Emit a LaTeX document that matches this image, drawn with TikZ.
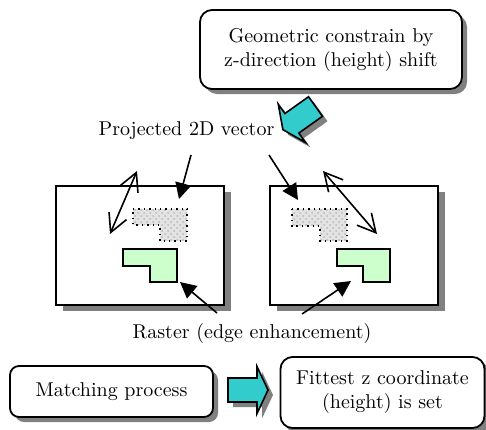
\documentclass[tikz,border=0pt]{standalone}
\usetikzlibrary{arrows.meta,patterns}
\definecolor{blockcyan}{RGB}{51,204,204}
\definecolor{shadowgray}{RGB}{128,128,128}
\newcommand{\blockpath}{(0,-12) -- (29,-12) -- (29,-23.5) -- (40,0) -- (29,23.5) -- (29,12) -- (0,12) -- cycle}
\tikzset{
  frame/.style={draw, line width=0.9pt, fill=white, minimum width=84pt, minimum height=59.5pt},
  textbox/.style={draw, line width=0.9pt, fill=white, rounded corners=6pt, align=center},
  pointer/.style={line width=0.8pt, -{Triangle[length=8pt,width=8pt]}},
  twoway/.style={line width=0.8pt, {Straight Barb[length=9pt,width=9.5pt]}-{Straight Barb[length=9pt,width=9.5pt]}},
  projarea/.style={draw, dotted, line width=0.7pt, preaction={fill=gray!22}, pattern=crosshatch dots, pattern color=gray!55},
  rasterarea/.style={draw, line width=0.8pt, fill=green!20},
  blockfill/.style={draw, line width=0.8pt, fill=blockcyan}
}
\begin{document}
\begin{tikzpicture}[x=0.5pt, y=-0.5pt]
    \useasboundingbox (0,0) rectangle (486,429);
    \fill[shadowgray, rounded corners=6pt] (205,15) rectangle (467,94);
    \fill[shadowgray] (63,192) rectangle (231,311);
    \fill[shadowgray] (277,192) rectangle (445,311);
    \fill[shadowgray, rounded corners=4.5pt] (15,371) rectangle (218,422);
    \fill[shadowgray, rounded corners=6pt] (285,362) rectangle (490,433);
    \node[textbox, minimum width=131pt, minimum height=39.5pt] (constrain) at (331,49.5)
      {Geometric constrain by\\z-direction (height) shift};
    \begin{scope}[shift={(320.5,111.5)}, rotate=215.4]
      \fill[shadowgray] \blockpath;
    \end{scope}
    \begin{scope}[shift={(315.5,106.5)}, rotate=215.4]
      \draw[blockfill] \blockpath;
    \end{scope}
    \node (proj) at (186.5,131) {Projected 2D vector};
    \node[frame] (frameL) at (140,245.5) {};
    \node[frame] (frameR) at (354,245.5) {};
    \draw[projarea] (133,209) -- (187,209) -- (187,241) -- (160,241) -- (160,225) -- (133,225) -- cycle;
    \draw[rasterarea] (123,249) -- (177,249) -- (177,282) -- (150,282) -- (150,266) -- (123,266) -- cycle;
    \draw[projarea] (292,209) -- (347,209) -- (347,241) -- (320,241) -- (320,226) -- (292,226) -- cycle;
    \draw[rasterarea] (337,249) -- (390,249) -- (390,282) -- (363,282) -- (363,266) -- (337,266) -- cycle;
    \coordinate (pjL) at (191,155);
    \coordinate (tgL) at (179,199);
    \coordinate (pjR) at (269,155);
    \coordinate (tgR) at (298,200);
    \draw[pointer] (pjL) -- (tgL);
    \draw[pointer] (pjR) -- (tgR);
    \coordinate (vL1) at (110,234);
    \coordinate (vL2) at (137,171);
    \coordinate (vR1) at (323,171);
    \coordinate (vR2) at (377,234);
    \draw[twoway] (vL1) -- (vL2);
    \draw[twoway] (vR1) -- (vR2);
    \node (raster) at (252,333) {Raster (edge enhancement)};
    \coordinate (rsL) at (217,313);
    \coordinate (grL) at (180,282);
    \coordinate (rsR) at (302,314);
    \coordinate (grR) at (351,281);
    \draw[pointer] (rsL) -- (grL);
    \draw[pointer] (rsR) -- (grR);
    \node[textbox, rounded corners=4.5pt, minimum width=101.5pt, minimum height=25.5pt] (matching) at (111.5,391.5)
      {Matching process};
    \begin{scope}[shift={(233,395)}]
      \fill[shadowgray] \blockpath;
    \end{scope}
    \begin{scope}[shift={(228,390)}]
      \draw[blockfill] \blockpath;
    \end{scope}
    \node[textbox, minimum width=102pt, minimum height=35.5pt] (fittest) at (382.5,392.5)
      {Fittest z coordinate\\(height) is set};
  \end{tikzpicture}
\end{document}
